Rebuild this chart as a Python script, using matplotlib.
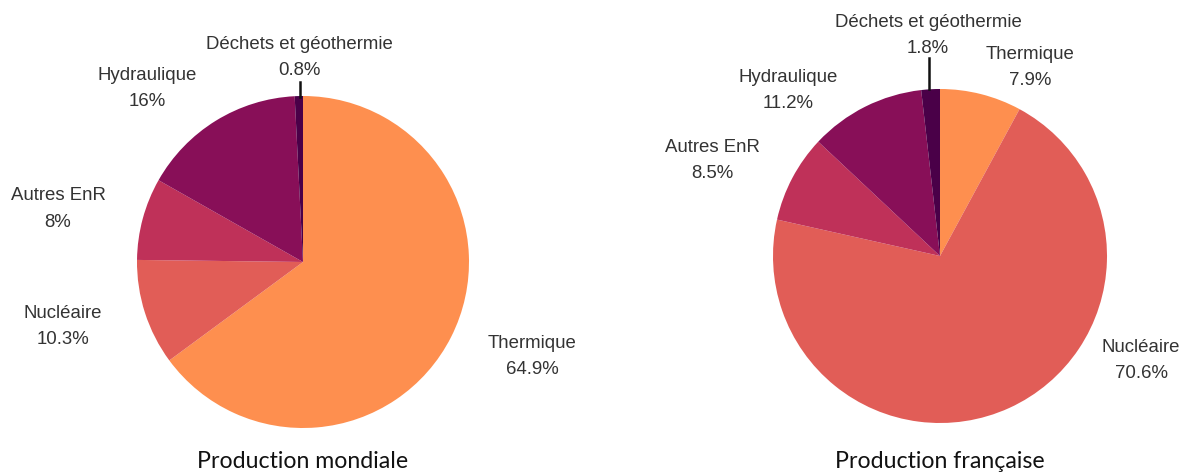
import matplotlib
matplotlib.use("Agg")
import matplotlib.pyplot as plt

categories = ["Thermique", "Nucléaire", "Autres EnR", "Hydraulique", "Déchets et géothermie"]
monde_values = [64.9, 10.3, 8.0, 16.0, 0.8]
monde_labels = ["64.9%", "10.3%", "8%", "16%", "0.8%"]
france_values = [7.9, 70.6, 8.5, 11.2, 1.8]
france_labels = ["7.9%", "70.6%", "8.5%", "11.2%", "1.8%"]
titles = ["Production mondiale", "Production française"]

colors = ["#FE8F4F", "#E15D57", "#BF3159", "#880F58", "#4A0048"]

W, H = 1185, 474
fig = plt.figure(figsize=(W / 100, H / 100), dpi=100)
ax = fig.add_axes([0, 0, 1, 1])

# layout: (center x, center y, radius), label positions (pixel, first line), title position
pies = [
    dict(values=monde_values, labels=monde_labels, center=(303, 262), r=166,
         label_pos=[(532, 343), (63, 313), (58, 196), (147, 75), (299, 44)],
         leader=((300, 82), (300, 97)), title_pos=(303, 461)),
    dict(values=france_values, labels=france_labels, center=(940, 256), r=167,
         label_pos=[(1030, 54), (1141, 347), (712, 148), (788, 77), (928, 22)],
         leader=((929, 58), (929, 89)), title_pos=(940, 461)),
]
line_gap = 26

txt_color = "#333333"
for p, title in zip(pies, titles):
    cx, cy = p["center"]
    # y axis inverted: counterclock=True draws visually clockwise
    ax.pie(p["values"], colors=colors, startangle=-90, counterclock=True,
           radius=p["r"], center=(cx, cy), frame=True,
           wedgeprops=dict(linewidth=0))
    for cat, lab, (x, y) in zip(categories, p["labels"], p["label_pos"]):
        ax.text(x, y, cat, ha="center", va="center", fontsize=13.4,
                family="Liberation Sans", color=txt_color)
        ax.text(x, y + line_gap, lab, ha="center", va="center", fontsize=13.4,
                family="Liberation Sans", color=txt_color)
    (x0, y0), (x1, y1) = p["leader"]
    ax.plot([x0, x1], [y0, y1], color="#111111", lw=1.8)
    ax.text(*p["title_pos"], title, ha="center", va="center", fontsize=16.7,
            family="Lato", color="#111111")

ax.set_xlim(0, W)
ax.set_ylim(H, 0)
ax.set_aspect("equal")
ax.axis("off")
fig.savefig("out.png", dpi=100)
